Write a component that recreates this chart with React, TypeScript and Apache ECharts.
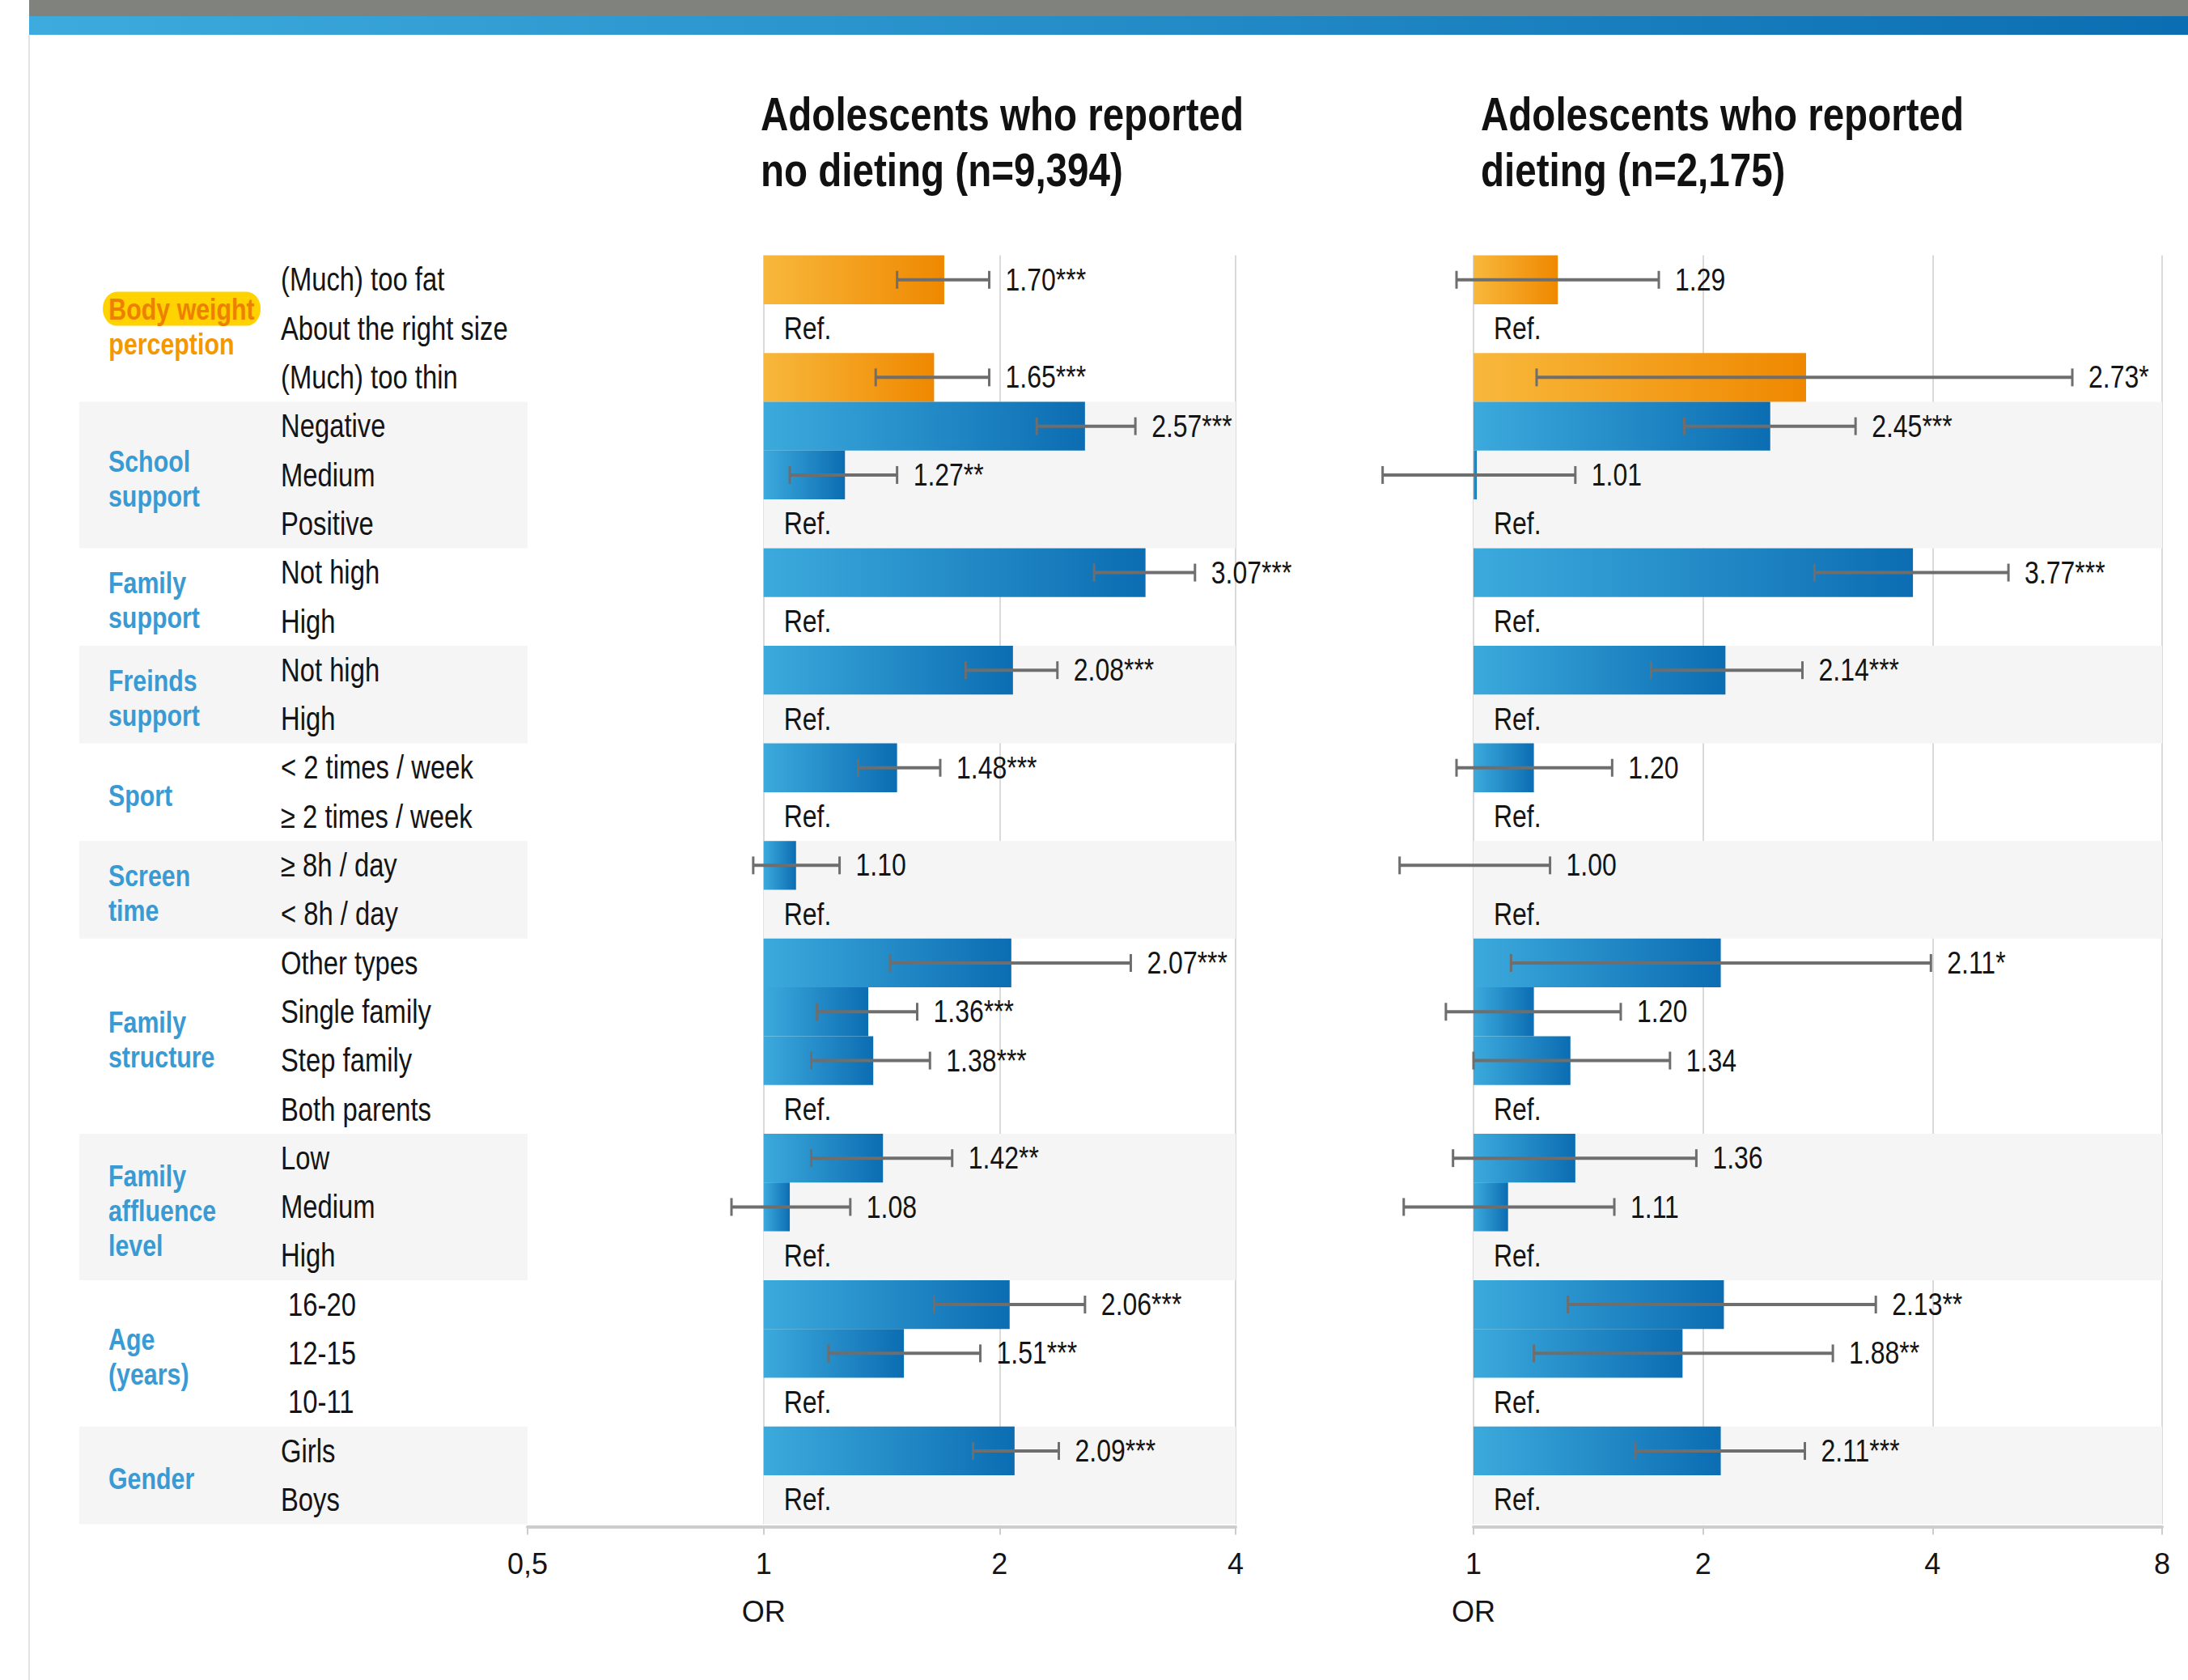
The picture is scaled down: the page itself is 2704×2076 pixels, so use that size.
import React, { useEffect, useRef } from "react";
import * as echarts from "echarts";

// ---------------- data ----------------
const rowLabels = [
  "(Much) too fat", "About the right size", "(Much) too thin",
  "Negative", "Medium", "Positive",
  "Not high", "High",
  "Not high", "High",
  "< 2 times / week", "≥ 2 times / week",
  "≥ 8h / day", "< 8h / day",
  "Other types", "Single family", "Step family", "Both parents",
  "Low", "Medium", "High",
  " 16-20", " 12-15", " 10-11",
  "Girls", "Boys",
];

const groupNames = [
  "Body weight\nperception", "School\nsupport", "Family\nsupport", "Freinds\nsupport",
  "Sport", "Screen\ntime", "Family\nstructure", "Family\naffluence\nlevel", "Age\n(years)", "Gender",
];
const groupSizes = [3, 3, 2, 2, 2, 2, 4, 3, 3, 2];

const titleNoDieting = "Adolescents who reported\nno dieting (n=9,394)";
const titleDieting = "Adolescents who reported\ndieting (n=2,175)";

const orNoDieting = [1.70, null, 1.65, 2.57, 1.27, null, 3.07, null, 2.08, null, 1.48, null, 1.10, null, 2.07, 1.36, 1.38, null, 1.42, 1.08, null, 2.06, 1.51, null, 2.09, null];
const loNoDieting = [1.48, null, 1.39, 2.23, 1.08, null, 2.64, null, 1.81, null, 1.32, null, 0.97, null, 1.45, 1.17, 1.15, null, 1.15, 0.91, null, 1.65, 1.21, null, 1.85, null];
const hiNoDieting = [1.94, null, 1.94, 2.98, 1.48, null, 3.55, null, 2.37, null, 1.68, null, 1.25, null, 2.94, 1.57, 1.63, null, 1.74, 1.29, null, 2.57, 1.89, null, 2.38, null];
const sigNoDieting = ["***", "", "***", "***", "**", "", "***", "", "***", "", "***", "", "", "", "***", "***", "***", "", "**", "", "", "***", "***", "", "***", ""];

const orDieting = [1.29, null, 2.73, 2.45, 1.01, null, 3.77, null, 2.14, null, 1.20, null, 1.00, null, 2.11, 1.20, 1.34, null, 1.36, 1.11, null, 2.13, 1.88, null, 2.11, null];
const loDieting = [0.95, null, 1.21, 1.89, 0.76, null, 2.80, null, 1.71, null, 0.95, null, 0.80, null, 1.12, 0.92, 1.00, null, 0.94, 0.81, null, 1.33, 1.20, null, 1.63, null];
const hiDieting = [1.75, null, 6.10, 3.17, 1.36, null, 5.03, null, 2.70, null, 1.52, null, 1.26, null, 3.98, 1.56, 1.81, null, 1.96, 1.53, null, 3.37, 2.96, null, 2.72, null];
const sigDieting = ["", "", "*", "***", "", "", "***", "", "***", "", "", "", "", "", "*", "", "", "", "", "", "", "**", "**", "", "***", ""];

const tickValuesNoDieting = [0.5, 1, 2, 4];
const tickLabelsNoDieting = ["0,5", "1", "2", "4"];
const tickValuesDieting = [1, 2, 4, 8];
const tickLabelsDieting = ["1", "2", "4", "8"];
const axisName = "OR";
const refLabel = "Ref.";

// ---------------- styles ----------------
const FONT = '"Liberation Sans", Arial, Roboto, sans-serif';
const NARROW = 0.82; // horizontal squeeze to imitate a condensed face
const TEXT = "#141414";
const GROUP_BLUE = "#3A9AD3";
const GROUP_ORANGE = "#F39800";
const ERR = "#6E6E6E";
const SHADE = "#F5F5F5";
const GRIDLINE = "#DADADA";
const AXIS = "#CDCDCD";

const TOP = 315.6;
const ROW_H = 60.3;
const N = rowLabels.length;
const H = ROW_H * N;

const rowKeys = rowLabels.map((_, i) => "r" + i);
const groupStart: number[] = [];
const rowGroup: number[] = [];
{
  let acc = 0;
  groupSizes.forEach((s, gi) => {
    groupStart.push(acc);
    for (let k = 0; k < s; k++) rowGroup.push(gi);
    acc += s;
  });
}
const shadedGroups = groupSizes.map((_, gi) => gi).filter((gi) => gi % 2 === 1);

const blueGrad = () =>
  new echarts.graphic.LinearGradient(0, 0, 1, 0, [
    { offset: 0, color: "#3CAADD" },
    { offset: 1, color: "#0C6DB2" },
  ]);
const orangeGrad = () =>
  new echarts.graphic.LinearGradient(0, 0, 1, 0, [
    { offset: 0, color: "#F8B83C" },
    { offset: 1, color: "#EF8800" },
  ]);

const plainText = (text: string, x: number, y: number, size: number, extra: any = {}) => ({
  type: "text",
  x,
  y,
  scaleX: NARROW,
  style: {
    text,
    fill: TEXT,
    fontSize: size,
    fontFamily: FONT,
    align: "left",
    verticalAlign: "middle",
    ...extra,
  },
});

function bandSeries(xIdx: number, fromOne: boolean) {
  return {
    type: "custom",
    xAxisIndex: xIdx,
    yAxisIndex: xIdx,
    z: 0,
    silent: true,
    clip: false,
    encode: { x: 0, y: [1, 2] },
    data: shadedGroups.map((gi) => [fromOne ? 1 : 0, groupStart[gi], groupStart[gi] + groupSizes[gi] - 1]),
    renderItem: (params: any, api: any) => {
      const cs = params.coordSys;
      const xv = api.value(0);
      const s = api.value(1);
      const e = api.value(2);
      const bw = api.size([0, 1], [xv, s])[1];
      const y0 = api.coord([xv, s])[1] - bw / 2;
      const y1 = api.coord([xv, e])[1] + bw / 2;
      const x0 = fromOne ? api.coord([1, s])[0] : cs.x;
      return {
        type: "rect",
        shape: { x: x0, y: y0, width: cs.x + cs.width - x0, height: y1 - y0 },
        style: { fill: SHADE },
      };
    },
  };
}

function panelSeries(
  idx: number,
  or: (number | null)[],
  lo: (number | null)[],
  hi: (number | null)[],
  sig: string[]
) {
  const errRows = or.map((v, i) => (v == null ? -1 : i)).filter((i) => i >= 0);
  const refRows = or.map((v, i) => (v == null ? i : -1)).filter((i) => i >= 0);
  return [
    bandSeries(idx, true),
    {
      type: "bar",
      xAxisIndex: idx,
      yAxisIndex: idx,
      z: 2,
      barCategoryGap: "0%",
      silent: true,
      data: or.map((v, i) =>
        v == null ? "-" : { value: v, itemStyle: { color: rowGroup[i] === 0 ? orangeGrad() : blueGrad() } }
      ),
    },
    {
      type: "custom",
      xAxisIndex: idx,
      yAxisIndex: idx,
      z: 3,
      silent: true,
      clip: false,
      encode: { x: [0, 1], y: 2 },
      data: errRows.map((i) => [lo[i], hi[i], i]),
      renderItem: (params: any, api: any) => {
        const r = errRows[params.dataIndex];
        const pLo = api.coord([api.value(0), api.value(2)]);
        const pHi = api.coord([api.value(1), api.value(2)]);
        const y = pLo[1];
        const cap = 11;
        const label = (or[r] as number).toFixed(2) + sig[r];
        return {
          type: "group",
          children: [
            { type: "line", shape: { x1: pLo[0], y1: y, x2: pHi[0], y2: y }, style: { stroke: ERR, lineWidth: 4 } },
            { type: "line", shape: { x1: pLo[0], y1: y - cap, x2: pLo[0], y2: y + cap }, style: { stroke: ERR, lineWidth: 3 } },
            { type: "line", shape: { x1: pHi[0], y1: y - cap, x2: pHi[0], y2: y + cap }, style: { stroke: ERR, lineWidth: 3 } },
            plainText(label, pHi[0] + 20, y, 39),
          ],
        };
      },
    },
    {
      type: "custom",
      xAxisIndex: idx,
      yAxisIndex: idx,
      z: 3,
      silent: true,
      clip: false,
      encode: { x: 0, y: 1 },
      data: refRows.map((i) => [1, i]),
      renderItem: (params: any, api: any) => {
        const p = api.coord([1, api.value(1)]);
        return plainText(refLabel, p[0] + 25, p[1], 39);
      },
    },
  ];
}

function logAxis(gridIndex: number, min: number, max: number, values: number[], labels: string[], showMin: boolean) {
  return {
    gridIndex,
    type: "log",
    logBase: 2,
    min,
    max,
    offset: 3,
    axisLine: { show: true, lineStyle: { color: AXIS, width: 4 } },
    axisTick: { show: true, length: 10, lineStyle: { color: AXIS, width: 2 } },
    axisLabel: {
      color: TEXT,
      fontSize: 36,
      fontFamily: FONT,
      lineHeight: 59,
      margin: 17,
      showMinLabel: true,
      showMaxLabel: true,
      formatter: (v: number) => {
        const k = values.findIndex((t) => Math.abs(t - v) < 1e-6);
        const s = k >= 0 ? labels[k] : String(v);
        return Math.abs(v - 1) < 1e-6 ? s + "\n" + axisName : s;
      },
    },
    splitLine: { show: true, showMinLine: showMin, showMaxLine: true, lineStyle: { color: GRIDLINE, width: 2 } },
  };
}

function titleText(text: string, x: number) {
  return {
    type: "text",
    x,
    y: 106,
    scaleX: NARROW,
    silent: true,
    style: {
      text,
      fill: "#111111",
      fontSize: 58,
      fontWeight: "bold",
      fontFamily: FONT,
      lineHeight: 69,
      align: "left",
      verticalAlign: "top",
    },
  };
}

function buildOption(): any {
  return {
    animation: false,
    backgroundColor: "#ffffff",
    textStyle: { fontFamily: FONT },
    graphic: [
      { type: "rect", shape: { x: 36, y: 0, width: 2668, height: 20 }, style: { fill: "#80827D" }, silent: true },
      {
        type: "rect",
        shape: { x: 36, y: 20, width: 2668, height: 23 },
        style: {
          fill: new echarts.graphic.LinearGradient(0, 0, 1, 0, [
            { offset: 0, color: "#3DABDD" },
            { offset: 1, color: "#0B6EB2" },
          ]),
        },
        silent: true,
      },
      { type: "line", shape: { x1: 36, y1: 43, x2: 36, y2: 2076 }, style: { stroke: "#E4E4E4", lineWidth: 2 }, silent: true },
      titleText(titleNoDieting, 940),
      titleText(titleDieting, 1830),
    ],
    grid: [
      { left: 98, top: TOP, width: 554, height: H, outerBoundsMode: "none" },
      { left: 652, top: TOP, width: 875, height: H, outerBoundsMode: "none" },
      { left: 1821, top: TOP, width: 851, height: H, outerBoundsMode: "none" },
    ],
    xAxis: [
      { gridIndex: 0, type: "value", min: 0, max: 1, show: false },
      logAxis(1, 0.5, 4, tickValuesNoDieting, tickLabelsNoDieting, false),
      logAxis(2, 1, 8, tickValuesDieting, tickLabelsDieting, true),
    ],
    yAxis: [
      { gridIndex: 0, type: "category", inverse: true, data: rowKeys, show: false },
      { gridIndex: 1, type: "category", inverse: true, data: rowKeys, show: false },
      { gridIndex: 2, type: "category", inverse: true, data: rowKeys, show: false },
    ],
    series: [
      bandSeries(0, false),
      // category labels
      {
        type: "custom",
        xAxisIndex: 0,
        yAxisIndex: 0,
        z: 3,
        silent: true,
        clip: false,
        encode: { x: 0, y: 1 },
        data: rowLabels.map((_, i) => [0, i]),
        renderItem: (params: any, api: any) => {
          const cs = params.coordSys;
          const p = api.coord([0, api.value(1)]);
          return plainText(rowLabels[params.dataIndex], cs.x + 249, p[1], 40);
        },
      },
      // group labels
      {
        type: "custom",
        xAxisIndex: 0,
        yAxisIndex: 0,
        z: 3,
        silent: true,
        clip: false,
        encode: { x: 0, y: [1, 2] },
        data: groupNames.map((_, gi) => [0, groupStart[gi], groupStart[gi] + groupSizes[gi] - 1]),
        renderItem: (params: any, api: any) => {
          const cs = params.coordSys;
          const gi = params.dataIndex;
          const yMid = (api.coord([0, api.value(1)])[1] + api.coord([0, api.value(2)])[1]) / 2;
          if (gi === 0) {
            const parts = groupNames[gi].split("\n");
            return {
              type: "text",
              x: cs.x + 29,
              y: yMid - 3,
              scaleX: NARROW,
              style: {
                text: "{hl|" + parts[0] + "}\n{pl|" + parts[1] + "}",
                fontSize: 37,
                fontWeight: "bold",
                fontFamily: FONT,
                align: "left",
                verticalAlign: "middle",
                rich: {
                  hl: {
                    fill: "#EE8000",
                    fontSize: 37,
                    fontWeight: "bold",
                    fontFamily: FONT,
                    backgroundColor: "#FFD200",
                    borderRadius: 21,
                    padding: [0, 9],
                    lineHeight: 43,
                    height: 42,
                  },
                  pl: {
                    fill: GROUP_ORANGE,
                    fontSize: 37,
                    fontWeight: "bold",
                    fontFamily: FONT,
                    padding: [0, 9],
                    lineHeight: 43,
                  },
                },
              },
            };
          }
          return {
            type: "text",
            x: cs.x + 36,
            y: yMid + 4,
            scaleX: NARROW,
            style: {
              text: groupNames[gi],
              fill: GROUP_BLUE,
              fontSize: 37,
              fontWeight: "bold",
              fontFamily: FONT,
              lineHeight: 43,
              align: "left",
              verticalAlign: "middle",
            },
          };
        },
      },
      ...panelSeries(1, orNoDieting, loNoDieting, hiNoDieting, sigNoDieting),
      ...panelSeries(2, orDieting, loDieting, hiDieting, sigDieting),
    ],
  };
}

export default function App() {
  const ref = useRef<HTMLDivElement>(null);
  useEffect(() => {
    document.body.style.margin = "0";
    const chart = echarts.init(ref.current as HTMLDivElement, undefined, { renderer: "svg", width: 2704, height: 2076 });
    chart.setOption(buildOption());
    return () => chart.dispose();
  }, []);
  return (
    <div
      ref={ref}
      style={{ position: "absolute", left: 0, top: 0, width: 2704, height: 2076, background: "#ffffff" }}
    />
  );
}
